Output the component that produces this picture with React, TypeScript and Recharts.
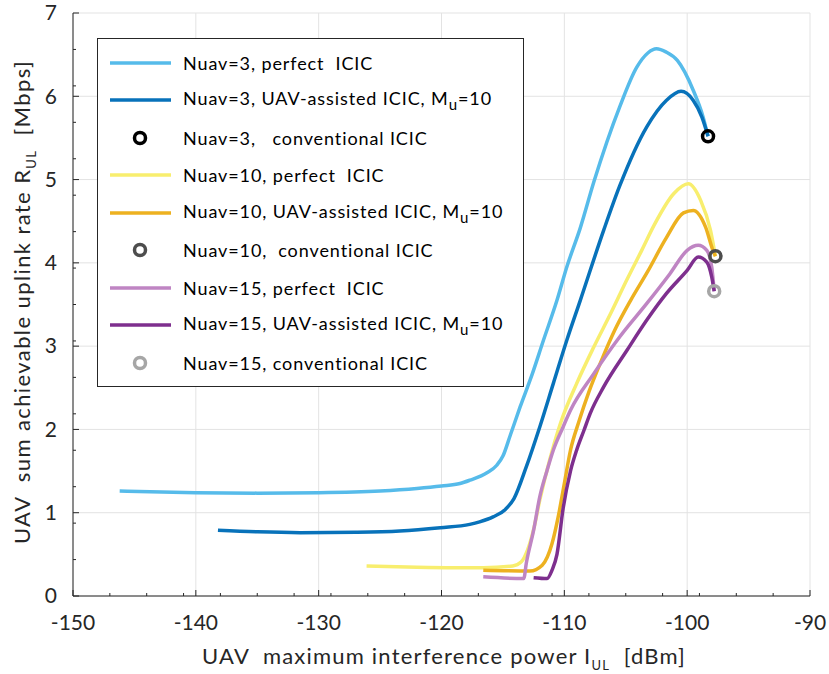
import React from "react";
import { ComposedChart, Line, Scatter, XAxis, YAxis, ReferenceLine, Label } from "recharts";

// tick positions (MATLAB-style: labelled majors, short minors)
const xMajorTicks = [-150, -140, -130, -120, -110, -100, -90];
const xMinorTicks = [-147, -144, -141, -138, -135, -132, -129, -126, -123, -117, -114, -111, -108, -105, -102, -99, -96, -93];
const yMajorTicks = [0, 1, 2, 3, 4, 5, 6, 7];
const yMinorTicks = [0.4375, 0.875, 1.3125, 1.75, 2.1875, 2.625, 3.0625, 3.5, 3.9375, 4.375, 4.8125, 5.25, 5.6875, 6.125, 6.5625];

// [interference power dBm, rate Mbps]
const nuav3Perfect = [
  [-146.2, 1.26], [-140, 1.24], [-135, 1.235], [-130, 1.24], [-125, 1.26], [-122, 1.29], [-120, 1.32],
  [-118.5, 1.35], [-117.7, 1.39], [-116.3, 1.48], [-115.5, 1.57], [-115, 1.68], [-114.4, 1.93], [-113.6, 2.27],
  [-112.6, 2.67], [-111.7, 3.07], [-110.6, 3.55], [-109.8, 3.95], [-108.7, 4.42], [-107.6, 4.97], [-105.5, 5.87],
  [-104.1, 6.35], [-103.2, 6.52], [-102.5, 6.57], [-101.7, 6.53], [-100.8, 6.43], [-99.5, 6.07], [-98.7, 5.75],
  [-98.3, 5.52],
];
const nuav3Assisted = [
  [-138.2, 0.79], [-135, 0.77], [-131.5, 0.76], [-127, 0.765], [-123.4, 0.78], [-120.1, 0.82], [-117.7, 0.86],
  [-116.9, 0.89], [-115.8, 0.95], [-114.8, 1.04], [-114.1, 1.17], [-113.1, 1.55], [-112, 2.03], [-110.9, 2.55],
  [-109.8, 3.07], [-108.7, 3.55], [-106.8, 4.39], [-105.5, 4.92], [-103.3, 5.63], [-101.7, 5.95], [-100.5, 6.06],
  [-99.5, 5.95], [-98.8, 5.75], [-98.3, 5.52],
];
const nuav10Perfect = [
  [-126.1, 0.36], [-122, 0.345], [-119, 0.34], [-116.6, 0.34], [-114.2, 0.36], [-113.5, 0.41], [-113, 0.55],
  [-112.5, 0.8], [-112, 1.15], [-111.2, 1.63], [-110.3, 2.08], [-109, 2.55], [-107.6, 2.99], [-106.2, 3.4],
  [-104.9, 3.8], [-103.7, 4.15], [-102.7, 4.45], [-101.1, 4.83], [-99.9, 4.95], [-98.9, 4.75], [-98.1, 4.39],
  [-97.7, 4.08],
];
const nuav10Assisted = [
  [-116.6, 0.31], [-112.8, 0.3], [-111.8, 0.37], [-111, 0.63], [-110.5, 0.95], [-110, 1.35], [-109.5, 1.75],
  [-108.8, 2.1], [-108, 2.45], [-107, 2.82], [-105.9, 3.19], [-104.6, 3.55], [-103.2, 3.9], [-101.7, 4.3],
  [-100.3, 4.6], [-99.5, 4.63], [-98.5, 4.43], [-97.9, 4.15], [-97.7, 4.08],
];
const nuav15Perfect = [
  [-116.6, 0.23], [-113.3, 0.21], [-113.1, 0.39], [-112.5, 0.79], [-112, 1.19], [-111.4, 1.51], [-110.9, 1.75],
  [-110.1, 2.03], [-109.5, 2.23], [-107.6, 2.67], [-105.5, 3.11], [-103.3, 3.51], [-101.4, 3.87], [-100, 4.15],
  [-99.1, 4.21], [-98.4, 4.15], [-98, 3.95], [-97.8, 3.66],
];
const nuav15Assisted = [
  [-112.5, 0.22], [-111.4, 0.21], [-111, 0.31], [-110.6, 0.5], [-110.1, 1.05], [-109.5, 1.5], [-109, 1.75],
  [-108.4, 1.99], [-107.9, 2.19], [-106.8, 2.51], [-104.9, 2.95], [-103.3, 3.31], [-101.7, 3.63], [-100, 3.91],
  [-99.1, 4.07], [-98.4, 4.01], [-98, 3.83], [-97.8, 3.66],
];
const conventional3 = [[-98.3, 5.52]];
const conventional10 = [[-97.7, 4.08]];
const conventional15 = [[-97.8, 3.66]];

const toPoints = (arr: number[][]) => arr.map(([x, y]) => ({ x, y }));

const lineSeries = [
  { name: "nuav3Perfect", data: nuav3Perfect, color: "#56BBEA" },
  { name: "nuav3Assisted", data: nuav3Assisted, color: "#0872BA" },
  { name: "nuav10Perfect", data: nuav10Perfect, color: "#F8EE6E" },
  { name: "nuav10Assisted", data: nuav10Assisted, color: "#EDB120" },
  { name: "nuav15Perfect", data: nuav15Perfect, color: "#BF85C3" },
  { name: "nuav15Assisted", data: nuav15Assisted, color: "#7E2F8E" },
];
const markerSeries = [
  { name: "conventional3", data: conventional3, color: "#000000" },
  { name: "conventional10", data: conventional10, color: "#4D4D4D" },
  { name: "conventional15", data: conventional15, color: "#A6A6A6" },
];

const legendRows: { kind: "line" | "circle"; color: string; text: React.ReactNode }[] = [
  { kind: "line", color: "#56BBEA", text: "Nuav=3, perfect  ICIC" },
  { kind: "line", color: "#0872BA", text: <>Nuav=3, UAV-assisted ICIC, M<sub>u</sub>=10</> },
  { kind: "circle", color: "#000000", text: "Nuav=3,   conventional ICIC" },
  { kind: "line", color: "#F8EE6E", text: "Nuav=10, perfect  ICIC" },
  { kind: "line", color: "#EDB120", text: <>Nuav=10, UAV-assisted ICIC, M<sub>u</sub>=10</> },
  { kind: "circle", color: "#4D4D4D", text: "Nuav=10,  conventional ICIC" },
  { kind: "line", color: "#BF85C3", text: "Nuav=15, perfect  ICIC" },
  { kind: "line", color: "#7E2F8E", text: <>Nuav=15, UAV-assisted ICIC, M<sub>u</sub>=10</> },
  { kind: "circle", color: "#A6A6A6", text: "Nuav=15, conventional ICIC" },
];

const FONT = "Lato, 'Open Sans', sans-serif";
const AXIS_COLOR = "#262626";
const GRID_COLOR = "#E3E3E3";

const XTick = (props: any) => {
  const { x, y, payload } = props;
  const major = xMajorTicks.includes(payload.value);
  return (
    <g>
      <line x1={x} y1={y} x2={x} y2={y - (major ? 6 : 3)} stroke={AXIS_COLOR} strokeWidth={1} />
      {major && (
        <text x={x} y={y + 34} textAnchor="middle" fontFamily={FONT} fontSize={21} fill={AXIS_COLOR}>
          {payload.value}
        </text>
      )}
    </g>
  );
};

const YTick = (props: any) => {
  const { x, y, payload } = props;
  const major = yMajorTicks.includes(payload.value);
  return (
    <g>
      <line x1={x} y1={y} x2={x + (major ? 6 : 3)} y2={y} stroke={AXIS_COLOR} strokeWidth={1} />
      {major && (
        <text x={x - 16} y={y} dy="0.35em" textAnchor="end" fontFamily={FONT} fontSize={21} fill={AXIS_COLOR}>
          {payload.value}
        </text>
      )}
    </g>
  );
};

const RingMarker = (color: string) => (props: any) => {
  const { cx, cy } = props;
  return <circle cx={cx} cy={cy} r={5.5} fill="none" stroke={color} strokeWidth={3.5} />;
};

const Legend9 = () => (
  <div
    style={{
      position: "absolute",
      left: 97,
      top: 38,
      width: 427,
      height: 349,
      boxSizing: "border-box",
      border: `1px solid ${AXIS_COLOR}`,
      background: "#fff",
      paddingTop: 5,
      fontFamily: FONT,
      fontSize: 18,
      letterSpacing: 0.9,
      color: "#000",
    }}
  >
    {legendRows.map((r, i) => (
      <div key={i} style={{ height: 37.5, display: "flex", alignItems: "center", whiteSpace: "pre" }}>
        <svg width={85} height={16} style={{ flex: "none" }}>
          {r.kind === "line" ? (
            <line x1={12} y1={8} x2={73} y2={8} stroke={r.color} strokeWidth={3.5} />
          ) : (
            <circle cx={42} cy={8} r={5.5} fill="none" stroke={r.color} strokeWidth={3.5} />
          )}
        </svg>
        <span>{r.text}</span>
      </div>
    ))}
  </div>
);

export default function App() {
  return (
    <div style={{ position: "absolute", left: 0, top: 0, width: 829, height: 674, background: "#fff" }}>
      <ComposedChart width={829} height={674} margin={{ top: 13, right: 19, bottom: 0, left: 0 }}>
        {xMajorTicks.map((v) => (
          <ReferenceLine key={`gx${v}`} x={v} stroke={GRID_COLOR} strokeWidth={1} />
        ))}
        {yMajorTicks.map((v) => (
          <ReferenceLine key={`gy${v}`} y={v} stroke={GRID_COLOR} strokeWidth={1} />
        ))}
        <XAxis
          type="number"
          dataKey="x"
          domain={[-150, -90]}
          ticks={[...xMajorTicks, ...xMinorTicks].sort((a, b) => a - b)}
          interval={0}
          height={78}
          tickSize={0}
          tickMargin={0}
          tickLine={false}
          tick={<XTick />}
          axisLine={{ stroke: AXIS_COLOR, strokeWidth: 1 }}
          allowDataOverflow
        >
          <Label
            content={() => (
              <text
                x={444}
                y={664}
                textAnchor="middle"
                fontFamily={FONT}
                fontSize={22}
                letterSpacing={1.2}
                fill={AXIS_COLOR}
                style={{ whiteSpace: "pre" }}
              >
                {"UAV  maximum interference power I"}
                <tspan fontSize={13} dy={6}>UL</tspan>
                <tspan dy={-6}>{"  [dBm]"}</tspan>
              </text>
            )}
          />
        </XAxis>
        <YAxis
          type="number"
          domain={[0, 7]}
          ticks={[...yMajorTicks, ...yMinorTicks].sort((a, b) => a - b)}
          interval={0}
          width={73}
          tickSize={0}
          tickMargin={0}
          tickLine={false}
          tick={<YTick />}
          axisLine={{ stroke: AXIS_COLOR, strokeWidth: 1 }}
          allowDataOverflow
        >
          <Label
            content={() => (
              <text
                x={0}
                y={0}
                transform="translate(30 302) rotate(-90)"
                textAnchor="middle"
                fontFamily={FONT}
                fontSize={22}
                letterSpacing={1.4}
                fill={AXIS_COLOR}
                style={{ whiteSpace: "pre" }}
              >
                {"UAV  sum achievable uplink rate R"}
                <tspan fontSize={13} dy={6}>UL</tspan>
                <tspan dy={-6}>{"  [Mbps]"}</tspan>
              </text>
            )}
          />
        </YAxis>
        {lineSeries.map((s) => (
          <Line
            key={s.name}
            data={toPoints(s.data)}
            dataKey="y"
            type="monotoneX"
            stroke={s.color}
            strokeWidth={3.5}
            dot={false}
            activeDot={false}
            isAnimationActive={false}
          />
        ))}
        {markerSeries.map((s) => (
          <Scatter
            key={s.name}
            data={toPoints(s.data)}
            dataKey="y"
            shape={RingMarker(s.color)}
            isAnimationActive={false}
          />
        ))}
      </ComposedChart>
      <Legend9 />
    </div>
  );
}
